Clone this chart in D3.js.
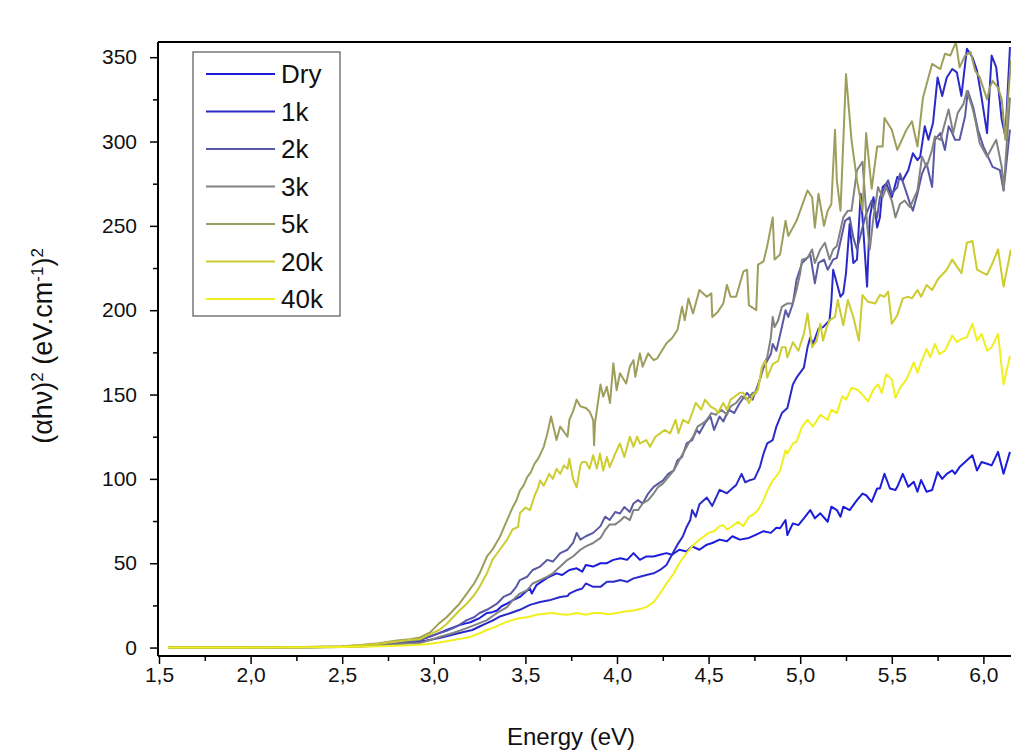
<!DOCTYPE html>
<html><head><meta charset="utf-8">
<script src="https://cdn.jsdelivr.net/npm/d3@7"></script>
<style>
body{margin:0;background:#fff}
svg{display:block}
text{font-family:"Liberation Sans",Arial,Helvetica,sans-serif;fill:#111}
</style></head>
<body><svg id="c" width="1011" height="751"></svg>
<script>
// ---- data: [energy (eV), (αhν)^2] ----
const dry = [[1.55,0],[2.0,0.1],[2.3,0.2],[2.5,0.5],[2.6,0.9],[2.7,1.6],[2.8,2.6],[2.86,3.4],[2.925,5],[2.96,6],[3.0,7.4],[3.04,9],[3.07,10.4],[3.1,11.6],[3.14,13.3],[3.17,14.2],[3.2,15],[3.25,17.5],[3.29,20.5],[3.32,21],[3.345,22],[3.37,24.5],[3.4,26],[3.43,28],[3.47,30],[3.5,33],[3.525,35],[3.535,32],[3.56,37],[3.6,40],[3.63,42],[3.67,44],[3.7,43],[3.74,46],[3.78,47],[3.81,45],[3.83,49],[3.87,48],[3.91,50],[3.945,50],[3.98,52],[4.02,53],[4.055,52],[4.09,56],[4.125,52],[4.16,54],[4.2,54],[4.235,55],[4.27,56],[4.3,55],[4.34,58],[4.38,57],[4.41,60],[4.45,58],[4.49,61],[4.52,62],[4.56,64],[4.6,63],[4.63,66],[4.67,64],[4.72,65],[4.76,67],[4.8,69],[4.84,68],[4.87,71],[4.89,70.7],[4.92,75.6],[4.93,66.7],[4.96,73.6],[4.99,72.6],[5.02,76.6],[5.055,81.5],[5.08,76.6],[5.11,79.6],[5.15,74.6],[5.17,83.5],[5.2,81.5],[5.22,77.6],[5.235,83.5],[5.27,81.5],[5.31,87.4],[5.34,91.3],[5.36,90.3],[5.39,86.4],[5.42,94.3],[5.435,94.3],[5.46,103],[5.49,94.3],[5.52,93.4],[5.53,95.3],[5.56,103],[5.59,95.3],[5.62,98.3],[5.64,92.4],[5.66,99.3],[5.69,92.4],[5.72,93.4],[5.75,104],[5.775,100],[5.8,103],[5.83,105],[5.845,103],[5.87,107],[5.9,110],[5.94,114],[5.965,105],[5.99,110],[6.02,109],[6.045,108],[6.08,116],[6.11,103],[6.145,116]];
const k1 = [[1.55,0],[2.0,0.1],[2.3,0.2],[2.5,0.4],[2.6,0.7],[2.7,1.2],[2.8,2],[2.9,3.2],[2.96,4.2],[3.03,5.6],[3.08,7],[3.14,8.6],[3.21,10.4],[3.25,12.5],[3.29,14.5],[3.33,16.5],[3.36,18.4],[3.42,20.5],[3.47,22.4],[3.5,24],[3.525,25.3],[3.58,27],[3.63,28],[3.69,30],[3.73,30.5],[3.74,32],[3.78,34],[3.81,35],[3.83,38],[3.85,37],[3.87,36],[3.91,36],[3.945,39],[3.98,39],[4.02,40],[4.055,39],[4.09,41],[4.125,42],[4.16,43],[4.2,44],[4.235,46],[4.27,49],[4.3,55],[4.33,61],[4.36,66],[4.38,71.5],[4.4,75.6],[4.41,81.5],[4.43,77.6],[4.45,85],[4.49,89],[4.52,84],[4.56,93.5],[4.6,91.5],[4.63,94.5],[4.65,96.3],[4.68,103],[4.7,98],[4.72,99],[4.75,100],[4.78,107],[4.8,115],[4.82,121],[4.85,123],[4.87,131],[4.9,139],[4.93,142],[4.945,149],[4.96,156],[4.98,160],[5.02,166],[5.04,178],[5.055,184],[5.07,180],[5.1,189],[5.125,190],[5.16,194],[5.17,205],[5.18,224],[5.2,216],[5.22,208],[5.235,210],[5.25,222],[5.27,251],[5.29,228],[5.31,230],[5.33,269],[5.34,255],[5.365,214],[5.38,255],[5.4,267],[5.42,249],[5.435,255],[5.45,273],[5.47,275],[5.5,267],[5.53,279],[5.56,277],[5.59,283],[5.615,293],[5.64,289],[5.655,291],[5.68,309],[5.7,301],[5.725,311],[5.75,338],[5.775,327],[5.8,338],[5.83,343],[5.855,341],[5.88,327],[5.91,355],[5.94,350],[5.965,342],[5.99,326],[6.02,305],[6.045,351],[6.07,344],[6.1,313],[6.12,303],[6.145,356]];
const k2 = [[1.55,0],[2.0,0.1],[2.3,0.2],[2.5,0.5],[2.6,0.9],[2.7,1.6],[2.8,2.6],[2.87,3.5],[2.925,4.4],[2.98,6.5],[3.03,8.6],[3.07,10],[3.105,11.5],[3.14,13.5],[3.18,16.3],[3.22,18],[3.25,20.5],[3.29,22.4],[3.345,26],[3.38,30],[3.42,32],[3.45,36],[3.47,40],[3.51,42],[3.54,46],[3.58,48],[3.62,52],[3.65,51],[3.69,56],[3.73,58],[3.76,62],[3.78,68],[3.8,64],[3.83,66],[3.87,68],[3.91,72],[3.935,77.6],[3.96,75.6],[3.99,80.4],[4.016,79.5],[4.04,83.3],[4.07,80.4],[4.09,85.4],[4.115,87.4],[4.14,85.4],[4.17,91.3],[4.2,95.3],[4.225,97.2],[4.25,99],[4.28,103],[4.31,105],[4.33,111],[4.355,113],[4.38,121],[4.41,123],[4.435,129],[4.45,127],[4.48,133],[4.51,137],[4.53,129],[4.56,137],[4.58,134],[4.61,141],[4.64,139],[4.67,145],[4.71,151],[4.74,147],[4.76,153],[4.78,159],[4.8,166],[4.82,170],[4.84,174],[4.85,180],[4.87,176],[4.9,190],[4.92,200],[4.935,196],[4.96,204],[4.98,218],[5.01,228],[5.03,230],[5.055,233],[5.08,216],[5.1,228],[5.13,230],[5.15,224],[5.18,230],[5.2,231],[5.245,253],[5.27,255],[5.29,243],[5.31,236],[5.34,249],[5.36,257],[5.39,265],[5.42,255],[5.435,267],[5.46,273],[5.48,277],[5.5,269],[5.53,273],[5.545,281],[5.57,273],[5.6,263],[5.615,259],[5.64,269],[5.665,281],[5.69,287],[5.72,273],[5.735,301],[5.765,305],[5.79,295],[5.81,309],[5.83,305],[5.845,301],[5.87,301],[5.9,315],[5.915,330],[5.945,320],[5.97,307],[6.0,297],[6.025,291],[6.05,285],[6.09,283],[6.11,271],[6.145,307]];
const k3 = [[1.55,0],[2.0,0.1],[2.3,0.2],[2.5,0.4],[2.6,0.8],[2.7,1.3],[2.8,2],[2.87,2.4],[2.925,2.7],[2.98,4.5],[3.03,6.3],[3.105,8.6],[3.18,11.5],[3.25,14.5],[3.29,16.3],[3.345,20.5],[3.4,24],[3.43,28],[3.47,32],[3.51,34],[3.54,38],[3.58,40],[3.62,42],[3.65,44],[3.69,48],[3.73,52],[3.76,54],[3.8,58],[3.83,60],[3.87,62],[3.91,65],[3.935,69.6],[3.96,73],[3.99,73],[4.016,75],[4.04,77.6],[4.07,75.6],[4.09,81.5],[4.115,81.5],[4.14,85.4],[4.17,87.4],[4.2,91.3],[4.225,95.3],[4.25,97.2],[4.28,101],[4.31,105],[4.34,111],[4.36,115],[4.39,121],[4.415,125],[4.44,131],[4.47,133],[4.49,135],[4.515,139],[4.54,138],[4.57,141],[4.6,138],[4.62,143],[4.65,145],[4.68,149],[4.71,147],[4.74,151],[4.76,151],[4.78,159],[4.8,168],[4.82,172],[4.84,184],[4.85,196],[4.86,190],[4.88,194],[4.9,202],[4.93,204],[4.96,204],[4.98,212],[5.0,222],[5.01,230],[5.04,231],[5.065,236],[5.08,228],[5.11,236],[5.135,240],[5.16,230],[5.18,236],[5.2,238],[5.235,255],[5.26,259],[5.28,259],[5.31,283],[5.34,288],[5.365,251],[5.38,236],[5.4,255],[5.425,273],[5.45,267],[5.47,273],[5.5,265],[5.52,255],[5.545,263],[5.57,265],[5.6,261],[5.615,265],[5.64,271],[5.665,291],[5.69,285],[5.72,295],[5.735,303],[5.765,301],[5.78,307],[5.81,319],[5.835,305],[5.86,317],[5.89,322],[5.91,330],[5.94,320],[5.955,313],[5.98,299],[6.02,291],[6.05,297],[6.07,301],[6.1,285],[6.11,271],[6.145,326]];
const k5 = [[1.55,0],[2.0,0.1],[2.3,0.3],[2.5,0.8],[2.6,1.5],[2.7,2.6],[2.8,4.2],[2.87,5],[2.925,6],[2.98,9],[3.03,14.5],[3.07,18],[3.105,22],[3.14,26],[3.18,32],[3.22,38],[3.25,44],[3.29,54],[3.32,58],[3.36,65.5],[3.4,75.6],[3.43,83],[3.45,87],[3.47,93],[3.49,96],[3.51,101],[3.53,104],[3.55,109],[3.57,112],[3.6,119],[3.62,127],[3.64,137],[3.67,123],[3.69,131],[3.71,128],[3.73,125],[3.74,135],[3.76,140],[3.78,147],[3.8,143],[3.83,142],[3.85,140],[3.87,135],[3.875,120],[3.88,133],[3.91,156],[3.925,148.7],[3.944,154.6],[3.962,145],[3.98,168.5],[3.998,152.6],[4.016,162.6],[4.05,156.6],[4.07,166.5],[4.09,170.4],[4.1,160.5],[4.125,174.4],[4.14,166.5],[4.17,174.4],[4.2,170.4],[4.22,171.5],[4.27,180.4],[4.3,183.4],[4.33,188.3],[4.355,202],[4.37,194],[4.39,207],[4.415,198],[4.45,212],[4.49,208],[4.515,210],[4.52,196],[4.55,199],[4.58,204],[4.6,215],[4.62,208],[4.65,208],[4.69,223],[4.71,224],[4.72,203],[4.76,200],[4.77,227],[4.8,229],[4.82,238],[4.85,255],[4.86,230],[4.89,233],[4.92,253],[4.935,244],[4.98,253],[5.04,271],[5.065,267],[5.08,249],[5.1,269],[5.13,250],[5.15,259],[5.17,263],[5.19,307],[5.2,277],[5.22,259],[5.25,340],[5.28,301],[5.31,277],[5.34,259],[5.36,305],[5.39,272],[5.42,297],[5.45,297],[5.46,314],[5.5,307],[5.53,295],[5.555,301],[5.58,307],[5.61,312],[5.64,297],[5.67,326],[5.69,334],[5.72,346],[5.75,344],[5.765,343],[5.79,352],[5.82,351],[5.85,359],[5.87,344],[5.9,351],[5.93,353],[5.955,342],[5.98,338],[6.02,325],[6.035,332],[6.05,336],[6.08,332],[6.1,325],[6.12,301],[6.135,326],[6.15,348]];
const k20 = [[1.55,0],[2.0,0.1],[2.3,0.3],[2.5,0.7],[2.6,1.3],[2.7,2.3],[2.8,3.6],[2.87,4.5],[2.925,5],[2.98,8],[3.03,10.4],[3.07,14],[3.105,18],[3.14,22],[3.18,26],[3.22,31],[3.25,36],[3.29,44],[3.32,52],[3.36,58],[3.4,64],[3.43,70],[3.46,71.5],[3.47,79.6],[3.5,83],[3.525,81.5],[3.55,90],[3.57,95],[3.58,99],[3.6,96],[3.63,103],[3.65,100],[3.67,106],[3.69,103],[3.71,108],[3.73,106],[3.74,112],[3.76,100],[3.78,95],[3.8,108],[3.81,110],[3.83,110],[3.85,106],[3.87,114],[3.89,106],[3.907,115],[3.925,105],[3.945,113],[3.96,107],[3.99,115],[4.016,121],[4.04,113],[4.07,125],[4.09,119],[4.11,125],[4.125,121],[4.16,123],[4.18,119],[4.21,125],[4.235,127],[4.26,129],[4.29,127],[4.32,135],[4.335,127],[4.36,135],[4.39,133],[4.43,145],[4.46,141],[4.48,147],[4.51,143],[4.54,141],[4.55,139],[4.58,145],[4.6,141],[4.62,147],[4.645,149],[4.67,151],[4.69,151],[4.72,145],[4.74,149],[4.77,153],[4.79,166],[4.81,170],[4.82,160],[4.85,168],[4.88,170],[4.9,178],[4.92,178],[4.93,172],[4.96,181],[4.99,176],[5.02,186],[5.04,198],[5.065,178],[5.09,182],[5.11,192],[5.125,182],[5.145,190],[5.16,194],[5.19,196],[5.205,206],[5.235,191],[5.26,206],[5.29,196],[5.32,182],[5.34,209],[5.37,205],[5.41,204],[5.435,209],[5.46,208],[5.48,211],[5.5,192],[5.53,197],[5.56,207],[5.59,208],[5.61,207],[5.64,212],[5.66,208],[5.69,215],[5.72,212],[5.75,218],[5.765,220],[5.8,224],[5.83,230],[5.88,222],[5.91,240],[5.94,241],[5.965,224],[6.0,222],[6.02,221],[6.05,228],[6.08,236],[6.11,214],[6.15,236]];
const k40 = [[1.55,0],[2.0,0],[2.3,0.1],[2.5,0.3],[2.6,0.5],[2.7,0.8],[2.8,1.1],[2.9,1.5],[2.96,2],[3.03,3],[3.1,4.4],[3.15,5.3],[3.2,6.3],[3.25,8.5],[3.29,10.4],[3.33,12],[3.38,14.5],[3.42,16],[3.47,17.5],[3.51,18],[3.56,19.5],[3.6,20],[3.65,20.5],[3.69,19.8],[3.73,19.5],[3.78,20.5],[3.83,19.5],[3.87,20.5],[3.91,20.5],[3.95,19.8],[4.0,20.5],[4.05,21.5],[4.09,22],[4.13,23],[4.16,24],[4.2,27],[4.235,32],[4.27,38],[4.31,44],[4.34,50],[4.38,56],[4.41,60],[4.45,64],[4.47,65.5],[4.5,68],[4.53,69],[4.56,72],[4.58,72.6],[4.6,70],[4.63,72],[4.66,74.6],[4.69,72],[4.72,77.6],[4.74,78.5],[4.77,81.5],[4.8,87.4],[4.82,93],[4.85,99],[4.88,103],[4.89,105],[4.92,117],[4.93,115],[4.96,121],[4.98,122],[5.01,131],[5.04,135],[5.07,131],[5.11,138],[5.15,135],[5.17,141],[5.2,139],[5.23,149],[5.25,147],[5.28,154],[5.31,153],[5.34,150],[5.37,146],[5.4,153],[5.425,156],[5.445,151],[5.47,162],[5.5,159],[5.52,148],[5.545,154],[5.58,159],[5.62,169],[5.64,163],[5.66,169],[5.69,177],[5.71,172],[5.735,180],[5.76,174],[5.79,176],[5.83,185],[5.855,181],[5.88,183],[5.91,184],[5.94,192],[5.965,182],[5.99,186],[6.02,176],[6.045,178],[6.08,186],[6.11,156],[6.145,173]];

const seriesNames = ["Dry","1k","2k","3k","5k","20k","40k"];
const seriesColors = ["#1c1cdc","#2a2ac8","#5a5aa4","#828282","#9e9e5c","#cccc30","#f0f020"];
const seriesData = [dry,k1,k2,k3,k5,k20,k40];
const xMajorTicks = [1.5,2.0,2.5,3.0,3.5,4.0,4.5,5.0,5.5,6.0];
const xMinorTicks = [1.75,2.25,2.75,3.25,3.75,4.25,4.75,5.25,5.75];
const yMajorTicks = [0,50,100,150,200,250,300,350];
const yMinorTicks = [25,75,125,175,225,275,325];

const svg = d3.select("#c");
const L = 158, T = 42, B = 656;
const x = d3.scaleLinear().domain([1.5, 6.2]).range([159, 159 + 183.2*4.7]);
const y = d3.scaleLinear().domain([-5, 359]).range([B, T]);
const R = x(6.2);

svg.append("defs").append("clipPath").attr("id","clip")
  .append("rect").attr("x",L).attr("y",T).attr("width",R-L).attr("height",B-T);

const line = d3.line().x(d=>x(d[0])).y(d=>y(d[1]));
const g = svg.append("g").attr("clip-path","url(#clip)");
seriesData.forEach((s,i)=>{
  g.append("path").datum(s).attr("d",line).attr("fill","none")
   .attr("stroke",seriesColors[i]).attr("stroke-width",2).attr("stroke-linejoin","round");
});

// top frame
svg.append("line").attr("x1",L).attr("x2",R).attr("y1",T).attr("y2",T).attr("stroke","#000").attr("stroke-width",2);

const fmt = d=>d3.format(".1f")(d).replace(".",",");
const xAxis = svg.append("g").attr("transform",`translate(0,${B})`)
  .call(d3.axisBottom(x).tickValues(xMajorTicks).tickFormat(fmt).tickSize(8).tickPadding(3));
const xMinor = svg.append("g").attr("transform",`translate(0,${B})`)
  .call(d3.axisBottom(x).tickValues(xMinorTicks).tickFormat("").tickSize(5));
const yAxis = svg.append("g").attr("transform",`translate(${L},0)`)
  .call(d3.axisLeft(y).tickValues(yMajorTicks).tickSize(8).tickPadding(13));
const yMinor = svg.append("g").attr("transform",`translate(${L},0)`)
  .call(d3.axisLeft(y).tickValues(yMinorTicks).tickFormat("").tickSize(5));
[xAxis,xMinor,yAxis,yMinor].forEach(a=>{
  a.selectAll("path").attr("stroke","#000").attr("stroke-width",2);
  a.selectAll("line").attr("stroke","#000").attr("stroke-width",1.5);
  a.selectAll("text").attr("font-size",21).attr("fill","#111")
   .attr("font-family",'"Liberation Sans",Arial,sans-serif');
});
yAxis.select("path").attr("d",`M0,${B}V${T}`);
xAxis.select("path").attr("d",`M${L},0H${R}`);
xMinor.select("path").remove(); yMinor.select("path").remove();

// axis titles
svg.append("text").attr("x",571).attr("y",745).attr("text-anchor","middle")
  .attr("font-size",24).text("Energy (eV)");
const yt = svg.append("text").attr("transform","translate(52,346) rotate(-90)")
  .attr("text-anchor","middle").attr("font-size",27);
yt.append("tspan").text("(αhν)");
yt.append("tspan").attr("baseline-shift","super").attr("font-size",17).text("2");
yt.append("tspan").text(" (eV.cm");
yt.append("tspan").attr("baseline-shift","super").attr("font-size",17).text("-1");
yt.append("tspan").text(")");
yt.append("tspan").attr("baseline-shift","super").attr("font-size",17).text("2");

// legend
const lg = svg.append("g");
lg.append("rect").attr("x",193).attr("y",52).attr("width",147).attr("height",264)
  .attr("fill","#fff").attr("stroke","#555").attr("stroke-width",1.2);
seriesNames.forEach((n,i)=>{
  const yy = 74 + i*37.5;
  lg.append("line").attr("x1",206).attr("x2",275).attr("y1",yy).attr("y2",yy)
    .attr("stroke",seriesColors[i]).attr("stroke-width",2);
  lg.append("text").attr("x",281).attr("y",yy+9).attr("font-size",26).text(n);
});
</script></body></html>
